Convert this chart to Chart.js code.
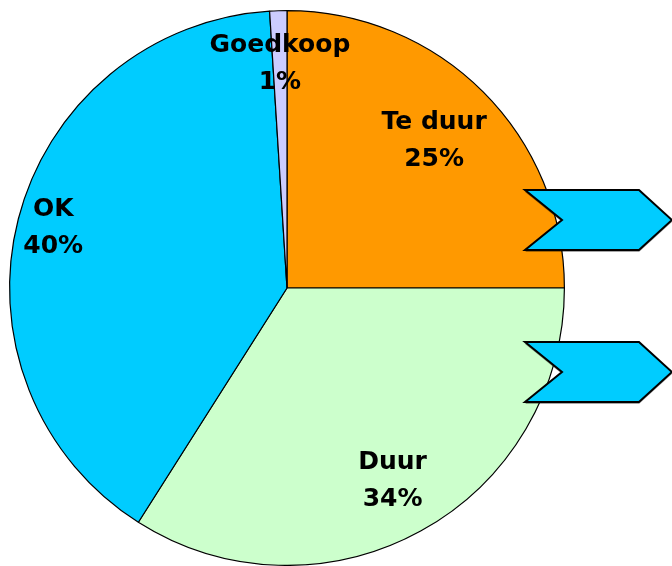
<!DOCTYPE html>
<html>
<head>
<meta charset="utf-8">
<script src="https://cdn.jsdelivr.net/npm/chart.js@4.4.1/dist/chart.umd.min.js"></script>
<style>
  html, body { margin: 0; padding: 0; background: #fff; }
  #wrap { width: 672px; height: 566px; }
</style>
</head>
<body>
<div id="wrap"><canvas id="pieChart" width="672" height="566"></canvas></div>
<script>
// Prijsbeleving - verdeling van antwoorden
const categories = ["Te duur", "Duur", "OK", "Goedkoop"];
const shares = [25, 34, 40, 1];
const sliceColors = ["#FF9900", "#CCFFCC", "#00CCFF", "#CCCCFF"];

// afstand van label tot middelpunt, als fractie van de straal
const labelDist = [0.75, 0.79, 0.87, 0.81];

// tekst "naam / percentage" in elk segment
const sliceLabels = {
  id: "sliceLabels",
  afterDatasetsDraw(chart) {
    const ctx = chart.ctx;
    const meta = chart.getDatasetMeta(0);
    const total = shares.reduce((s, v) => s + v, 0);
    ctx.save();
    ctx.font = "bold 25px 'DejaVu Sans'";
    ctx.fillStyle = "#000";
    ctx.textAlign = "center";
    ctx.textBaseline = "middle";
    meta.data.forEach((arc, i) => {
      const p = arc.getProps(["x", "y", "startAngle", "endAngle", "outerRadius"], true);
      const mid = (p.startAngle + p.endAngle) / 2;
      const r = p.outerRadius * labelDist[i];
      const cx = p.x + Math.cos(mid) * r;
      const cy = p.y + Math.sin(mid) * r;
      ctx.fillText(categories[i], cx, cy - 18);
      ctx.fillText(Math.round(shares[i] / total * 100) + "%", cx, cy + 19);
    });
    ctx.restore();
  }
};

// twee blauwe pijlvormen rechts van de taart
const chevrons = {
  id: "chevrons",
  afterDraw(chart) {
    const ctx = chart.ctx;
    const W = chart.width;
    [190, 342].forEach(top => {
      const h = 60, notch = 37, head = 33;
      const left = 525, right = W;
      ctx.save();
      ctx.beginPath();
      ctx.moveTo(left, top);
      ctx.lineTo(right - head, top);
      ctx.lineTo(right, top + h / 2);
      ctx.lineTo(right - head, top + h);
      ctx.lineTo(left, top + h);
      ctx.lineTo(left + notch, top + h / 2);
      ctx.closePath();
      ctx.shadowColor = "rgba(0,0,0,0.35)";
      ctx.shadowOffsetY = 2;
      ctx.fillStyle = "#00CCFF";
      ctx.fill();
      ctx.shadowColor = "transparent";
      ctx.lineWidth = 2;
      ctx.strokeStyle = "#000";
      ctx.stroke();
      ctx.restore();
    });
  }
};

new Chart(document.getElementById("pieChart"), {
  type: "pie",
  data: {
    labels: categories,
    datasets: [{
      data: shares,
      backgroundColor: sliceColors,
      borderColor: "#000",
      borderWidth: 1.2
    }]
  },
  options: {
    responsive: false,
    animation: false,
    layout: { padding: { left: 8, top: 10, right: 106, bottom: 0 } },
    plugins: {
      legend: { display: false },
      tooltip: { enabled: false }
    }
  },
  plugins: [sliceLabels, chevrons]
});
</script>
</body>
</html>
